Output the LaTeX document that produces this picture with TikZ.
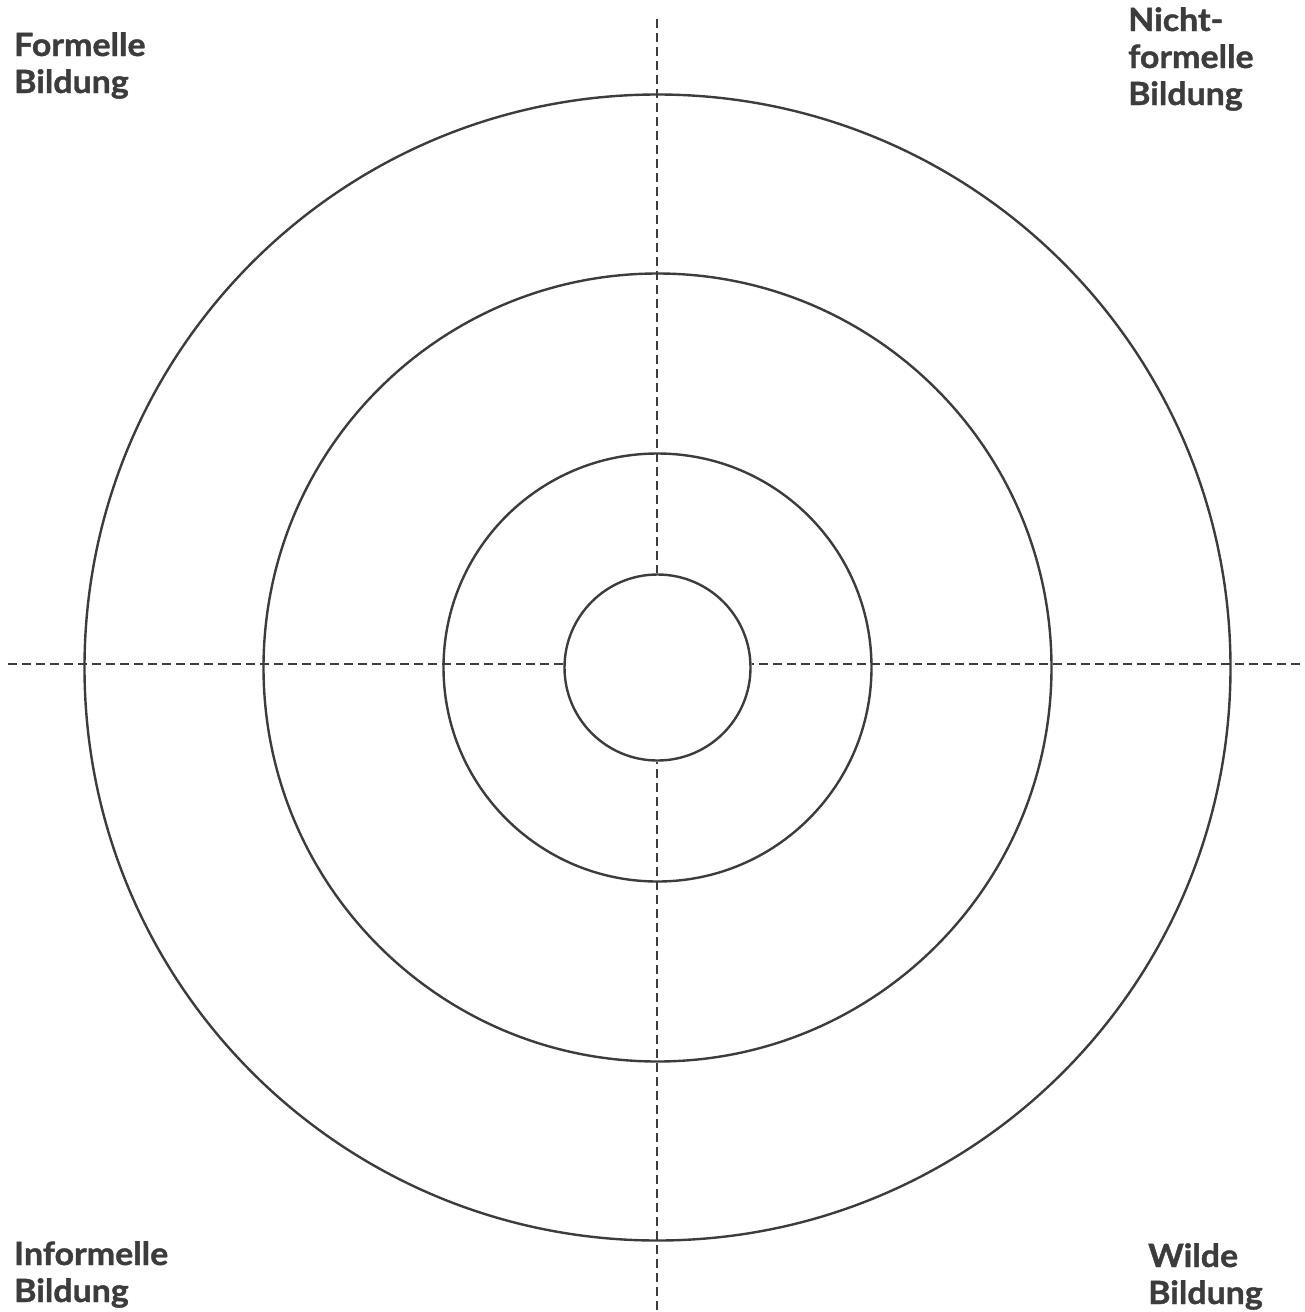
\documentclass[tikz,border=0pt]{standalone}
\usepackage{fontspec}
\setmainfont{Lato}[UprightFont=* Bold, FakeStretch=1.06, FakeBold=1.2]
\definecolor{ink}{HTML}{3C3C3C}
\begin{document}
\begin{tikzpicture}[x=1pt,y=-1pt,
  ring/.style={draw=ink, line width=2.4pt, circle, inner sep=0pt, minimum size=#1},
  axis/.style={draw=ink, line width=2.8pt, dash pattern=on 9pt off 5pt},
  label/.style={text=ink, font=\fontsize{32}{37}\selectfont, align=left, inner sep=0pt, anchor=base west}]
\useasboundingbox (0,0) rectangle (1304,1312);
\coordinate (c) at (657.5,667.5);
\node[ring=1146pt] (r4) at (c) {};
\node[ring=788pt] (r3) at (c) {};
\node[ring=428pt] (r2) at (c) {};
\node[ring=186pt] (r1) at (c) {};
\coordinate (top) at (657,19);
\coordinate (bot) at (657,1310);
\coordinate (lft) at (8,664);
\coordinate (rgt) at (1300,664);
\draw[axis] (top) -- (top |- r1.north);
\draw[axis] (bot) -- (bot |- r1.south);
\draw[axis] (lft) -- (lft -| r1.west);
\draw[axis] (rgt) -- (rgt -| r1.east);
\node[label] (fb) at (14,93) {Formelle\\Bildung};
\node[label] (nfb) at (1128,105) {Nicht-\\formelle\\Bildung};
\node[label] (ib) at (14,1302) {Informelle\\Bildung};
\node[label] (wb) at (1148,1304) {Wilde\\Bildung};
\end{tikzpicture}
\end{document}
